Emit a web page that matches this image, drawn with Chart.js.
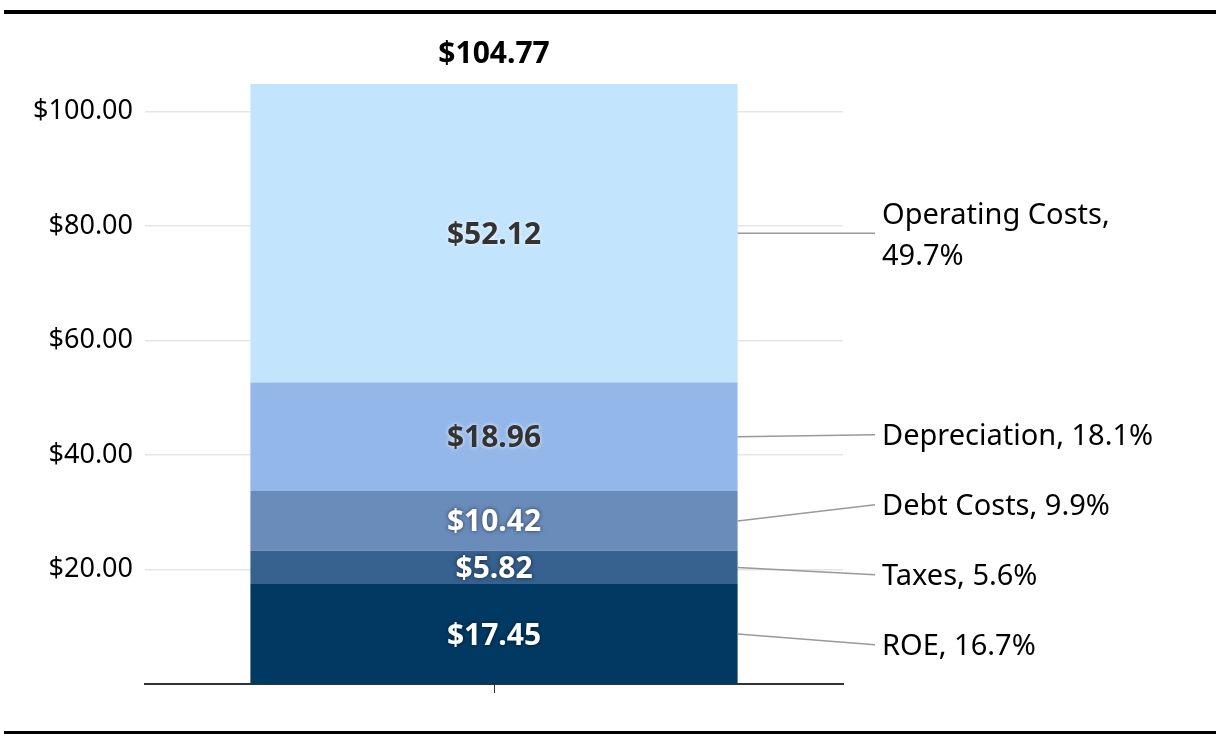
<!DOCTYPE html>
<html>
<head>
<meta charset="utf-8">
<script src="https://cdn.jsdelivr.net/npm/chart.js@4"></script>
<style>
  html, body { margin: 0; padding: 0; background: #fff; }
  #wrap { width: 1220px; height: 744px; }
</style>
</head>
<body>
<div id="wrap"><canvas id="costChart"></canvas></div>
<script>
// data
const segmentNames = ['ROE', 'Taxes', 'Debt Costs', 'Depreciation', 'Operating Costs'];
const segmentValues = [17.45, 5.82, 10.42, 18.96, 52.12];
const segmentShares = ['16.7%', '5.6%', '9.9%', '18.1%', '49.7%'];
const segmentColors = ['#003a63', '#37618e', '#6a8cbb', '#94b7e9', '#c2e4fd'];
const labelInk = ['#ffffff', '#ffffff', '#ffffff', '#333333', '#333333'];
const yTicks = [20, 40, 60, 80, 100];
const totalValue = segmentValues.reduce((a, b) => a + b, 0);

const FONT = "'Noto Sans', sans-serif";
const money = v => '$' + v.toFixed(2);

// rules, value labels, total, leader lines
const annotate = {
  id: 'annotate',
  afterDraw(chart) {
    const ctx = chart.ctx;
    const y = chart.scales.y;
    const area = chart.chartArea;
    const meta0 = chart.getDatasetMeta(0).data[0];
    const barRight = meta0.x + meta0.width / 2;
    const cx = meta0.x;

    ctx.save();
    // top and bottom rules
    ctx.fillStyle = '#000';
    ctx.fillRect(4, 10, 1212, 4);
    ctx.fillRect(4, 731, 1212, 3);

    // values inside segments
    let base = 0;
    const mids = [];
    segmentValues.forEach((v, i) => {
      const midY = y.getPixelForValue(base + v / 2);
      mids.push(midY);
      base += v;
      ctx.font = 'bold 30px ' + FONT;
      ctx.textAlign = 'center';
      ctx.textBaseline = 'middle';
      ctx.shadowColor = labelInk[i] === '#ffffff' ? 'rgba(0,0,0,0.6)' : 'rgba(255,255,255,0.9)';
      ctx.shadowBlur = 4;
      ctx.fillStyle = labelInk[i];
      ctx.fillText(money(v), cx, midY + 2);
    });
    ctx.shadowBlur = 0;
    ctx.shadowColor = 'transparent';

    // total on top
    ctx.font = 'bold 30px ' + FONT;
    ctx.fillStyle = '#000';
    ctx.textAlign = 'center';
    ctx.textBaseline = 'middle';
    ctx.fillText(money(totalValue), cx, y.getPixelForValue(totalValue) - 30);

    // side labels, spread so they don't collide
    const gap = 70;
    let groups = mids.map((m, i) => ({ idx: [i], mean: m }));
    const place = g => g.idx.map((_, k) => g.mean + ((g.idx.length - 1) / 2 - k) * gap);
    let merged = true;
    while (merged) {
      merged = false;
      for (let j = 0; j < groups.length - 1; j++) {
        const a = place(groups[j]), b = place(groups[j + 1]);
        if (a[a.length - 1] - b[0] < gap) {
          const idx = groups[j].idx.concat(groups[j + 1].idx);
          const mean = idx.reduce((s, k) => s + mids[k], 0) / idx.length;
          groups.splice(j, 2, { idx, mean });
          merged = true;
          break;
        }
      }
    }
    const labelY = [];
    groups.forEach(g => place(g).forEach((p, k) => { labelY[g.idx[k]] = p; }));

    const textX = area.right + 39;
    ctx.font = '29px ' + FONT;
    ctx.textAlign = 'left';
    ctx.fillStyle = '#000';
    segmentNames.forEach((name, i) => {
      const ly = labelY[i];
      ctx.strokeStyle = '#999';
      ctx.lineWidth = 1.5;
      ctx.beginPath();
      ctx.moveTo(barRight, mids[i]);
      ctx.lineTo(textX - 7, ly);
      ctx.stroke();
      const full = name + ', ' + segmentShares[i];
      if (ctx.measureText(full).width > 290) {
        ctx.fillText(name + ',', textX, ly - 18);
        ctx.fillText(segmentShares[i], textX, ly + 23);
      } else {
        ctx.fillText(full, textX, ly + 2);
      }
    });
    ctx.restore();
  }
};

new Chart(document.getElementById('costChart'), {
  type: 'bar',
  data: {
    labels: [''],
    datasets: segmentValues.map((v, i) => ({
      label: segmentNames[i],
      data: [v],
      backgroundColor: segmentColors[i],
      borderWidth: 0,
      categoryPercentage: 1,
      barPercentage: 0.698
    }))
  },
  options: {
    responsive: true,
    maintainAspectRatio: false,
    animation: false,
    layout: { padding: { top: 84, right: 377, bottom: 0, left: 0 } },
    plugins: { legend: { display: false }, tooltip: { enabled: false } },
    scales: {
      x: {
        stacked: true,
        afterFit: s => { s.height = 60; },
        grid: { offset: false, drawOnChartArea: false, drawTicks: true, tickLength: 9, color: '#333', lineWidth: 1 },
        border: { color: '#333', width: 2 },
        ticks: { display: false }
      },
      y: {
        stacked: true,
        min: 0,
        max: totalValue,
        afterFit: s => { s.width = 145; },
        afterBuildTicks: s => { s.ticks = yTicks.map(v => ({ value: v })); },
        border: { display: false },
        grid: { color: '#e6e6e6', lineWidth: 1.5, drawTicks: false },
        ticks: {
          padding: 12,
          color: '#000',
          font: { family: FONT, size: 27 },
          callback: v => money(v)
        }
      }
    }
  },
  plugins: [annotate]
});
</script>
</body>
</html>
